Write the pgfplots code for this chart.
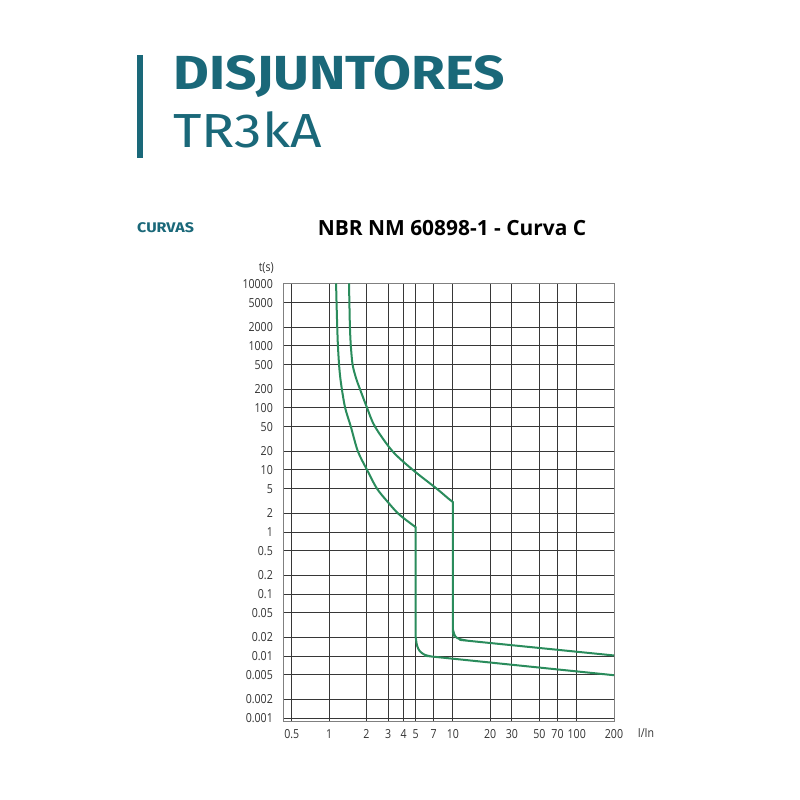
\documentclass[border=0pt]{standalone}
\usepackage{fontspec}
\setmainfont{Open Sans}
\newfontfamily\headfont[FakeStretch=1.15]{Fira Sans}
\newfontfamily\tickfont[FakeStretch=0.85]{Open Sans}
\usepackage{pgfplots}
\pgfplotsset{compat=1.18}
\definecolor{teal1}{RGB}{26,104,121}
\definecolor{curve}{RGB}{42,140,92}
\definecolor{gridc}{RGB}{55,55,55}
\begin{document}
\begin{tikzpicture}[x=1bp,y=1bp]
\useasboundingbox[fill=white] (0,0) rectangle (800,800);
% header
\fill[teal1] (137,642) rectangle (143,745);
\node[anchor=base west, inner sep=0pt, text=teal1, font=\headfont\bfseries\fontsize{48}{48}\selectfont] at (173,710) {DISJUNTORES};
\node[anchor=base west, inner sep=0pt, text=teal1, font=\headfont\fontsize{48}{48}\selectfont] at (173,652) {TR3kA};
\node[anchor=base west, inner sep=0pt, text=teal1, font=\headfont\bfseries\fontsize{14}{14}\selectfont] at (137,567) {CURVAS};
\node[anchor=base, inner sep=0pt, font=\bfseries\fontsize{21}{21}\selectfont] at (452,564) {NBR NM 60898-1 - Curva C};

\begin{axis}[
  at={(283bp,79bp)}, anchor=south west,
  scale only axis, width=331bp, height=437bp,
  xmode=log, ymode=log,
  xmin=0.425, xmax=200, ymin=0.000895, ymax=10000,
  xtick={0.5,1,2,3,4,5,7,10,20,30,50,70,100,200},
  xticklabels={0.5,1,2,3,4,5,7,10,20,30,50,70,100,200},
  ytick={0.001,0.002,0.005,0.01,0.02,0.05,0.1,0.2,0.5,1,2,5,10,20,50,100,200,500,1000,2000,5000,10000},
  yticklabels={0.001,0.002,0.005,0.01,0.02,0.05,0.1,0.2,0.5,1,2,5,10,20,50,100,200,500,1000,2000,5000,10000},
  major tick length=0pt,
  grid=major,
  major grid style={gridc, line width=1bp},
  axis line style={black!50, line width=1bp},
  tick label style={font=\tickfont\fontsize{12.5}{12.5}\selectfont, text=black!80},
  yticklabel style={anchor=east, inner sep=0pt, xshift=-10bp},
  xticklabel style={anchor=north, inner sep=0pt, yshift=-8bp},
  clip=true,
]
% curve 1 (left)
\addplot[curve, line width=2bp, smooth, line cap=round] coordinates {
  (1.14,10000) (1.15,5000) (1.165,2000) (1.18,1000) (1.205,500) (1.23,320) (1.27,200)
  (1.35,100) (1.5,50) (1.71,20) (2.03,10) (2.44,5) (3.0,3.0) (3.6,2.0) (4.3,1.5) (5,1.2)
};
\addplot[curve, line width=2bp, smooth, line cap=round] coordinates {
  (5,1.2) (5,0.03) (5.03,0.019) (5.15,0.0145) (5.4,0.012) (5.9,0.0105) (6.6,0.0099)
  (7.5,0.0096) (200,0.0049)
};
% curve 2 (right)
\addplot[curve, line width=2bp, smooth, line cap=round] coordinates {
  (1.45,10000) (1.46,5000) (1.475,2000) (1.5,1000) (1.55,500) (1.655,300) (1.78,200)
  (2.03,100) (2.35,50) (3.26,20) (4.76,10) (7.4,5) (9.3,3.4) (10,3.05)
};
\addplot[curve, line width=2bp, smooth, line cap=round] coordinates {
  (10,3.05) (10,0.035) (10.1,0.025) (10.5,0.0205) (11.3,0.0188) (12.5,0.018)
  (13.7,0.0175) (200,0.0102)
};
\end{axis}
\node[anchor=east, inner sep=0pt, font=\tickfont\fontsize{12.5}{12.5}\selectfont, text=black!80] at (274,532) {t(s)};
\node[inner sep=0pt, font=\tickfont\fontsize{12.5}{12.5}\selectfont, text=black!80] at (646,67) {I/In};
\end{tikzpicture}
\end{document}
